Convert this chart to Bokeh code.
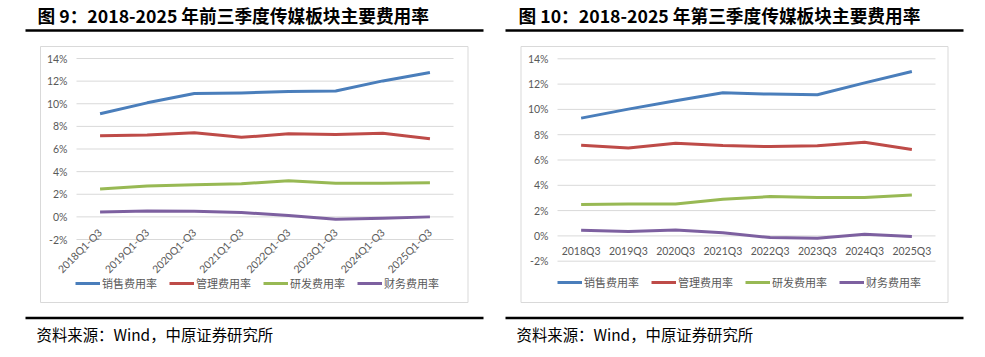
from bokeh.plotting import figure
from bokeh.models import (Range1d, Label, Legend, LegendItem, LinearAxis,
                          PrintfTickFormatter, FixedTicker)
from bokeh.embed import file_html
from bokeh.resources import INLINE
import math

cats_ytd = ["2018Q1-Q3", "2019Q1-Q3", "2020Q1-Q3", "2021Q1-Q3",
            "2022Q1-Q3", "2023Q1-Q3", "2024Q1-Q3", "2025Q1-Q3"]
cats_q3 = ["2018Q3", "2019Q3", "2020Q3", "2021Q3",
           "2022Q3", "2023Q3", "2024Q3", "2025Q3"]

ytd_sales = [9.12, 10.08, 10.90, 10.95, 11.08, 11.13, 12.02, 12.76]
ytd_admin = [7.17, 7.23, 7.43, 7.03, 7.34, 7.28, 7.40, 6.90]
ytd_rd = [2.46, 2.73, 2.84, 2.92, 3.20, 2.97, 2.98, 3.02]
ytd_fin = [0.44, 0.53, 0.50, 0.38, 0.12, -0.20, -0.12, 0.00]

q3_sales = [9.31, 10.02, 10.68, 11.31, 11.21, 11.16, 12.10, 13.00]
q3_admin = [7.17, 6.94, 7.33, 7.14, 7.06, 7.12, 7.41, 6.83]
q3_rd = [2.48, 2.53, 2.53, 2.90, 3.11, 3.03, 3.03, 3.24]
q3_fin = [0.45, 0.34, 0.47, 0.24, -0.13, -0.18, 0.13, -0.05]

series_names = ["销售费用率", "管理费用率", "研发费用率", "财务费用率"]
series_colors = ["#4A7EBB", "#BE4B48", "#98B954", "#7D60A0"]
y_ticks = [-2, 0, 2, 4, 6, 8, 10, 12, 14]

title_left = "图 9：2018-2025 年前三季度传媒板块主要费用率"
title_right = "图 10：2018-2025 年第三季度传媒板块主要费用率"
source_text = "资料来源：Wind，中原证券研究所"

CJK = "Noto Sans CJK SC"
LAT = "Lato"
GRAY = "#595959"
W, H = 985, 357

# page figure: frame covers whole canvas, y measured downward in pixels
p = figure(width=W, height=H, x_range=Range1d(0, W), y_range=Range1d(H, 0),
           output_backend="svg", toolbar_location=None, title=None,
           x_axis_location=None, y_axis_location=None, min_border=0)
p.min_border_left = p.min_border_right = p.min_border_top = p.min_border_bottom = 0
p.outline_line_color = None
p.background_fill_color = "white"
p.border_fill_color = "white"
p.xgrid.visible = False
p.ygrid.visible = False

extra_x, extra_y = {}, {}


def plan_chart(key, cats, gx0, gx1, gy_top, gy_bot):
    n = len(cats)
    band = (gx1 - gx0) / n
    x_start = -0.5 - gx0 / band
    extra_x[key] = Range1d(x_start, x_start + W / band)
    unit = (gy_bot - gy_top) / (y_ticks[-1] - y_ticks[0])
    extra_y[key] = Range1d(y_ticks[0] - (H - gy_bot) / unit, y_ticks[-1] + gy_top / unit)


plan_chart("L", cats_ytd, 76, 453, 58, 239)
plan_chart("R", cats_q3, 557, 935, 58.3, 260.7)
p.extra_x_ranges = extra_x
p.extra_y_ranges = extra_y


def style_axis(ax):
    ax.axis_line_color = None
    ax.major_tick_line_color = None
    ax.minor_tick_line_color = None
    ax.major_tick_in = 0
    ax.major_tick_out = 0
    ax.major_label_text_color = GRAY
    ax.major_label_text_font = LAT
    ax.major_label_text_font_size = "10.5px"


def draw_chart(key, cats, data, x_axis_at, rotated, legend_xy):
    n = len(cats)
    xs = list(range(n))
    # horizontal gridlines across the category bands
    p.segment(x0=-0.5, x1=n - 0.5, y0=y_ticks, y1=y_ticks, line_color="#D9D9D9",
              line_width=1, x_range_name=key, y_range_name=key)
    yax = LinearAxis(x_range_name=key, y_range_name=key, fixed_location=-0.5,
                     ticker=FixedTicker(ticks=y_ticks),
                     formatter=PrintfTickFormatter(format="%d%%"))
    style_axis(yax)
    yax.major_label_standoff = 9
    p.add_layout(yax, "left")
    xax = LinearAxis(x_range_name=key, y_range_name=key, fixed_location=x_axis_at,
                     ticker=FixedTicker(ticks=xs),
                     major_label_overrides={i: c for i, c in enumerate(cats)})
    style_axis(xax)
    if rotated:
        xax.major_label_orientation = math.pi / 4
        xax.major_label_standoff = -9
    else:
        xax.major_label_standoff = 9
    p.add_layout(xax, "below")
    items = []
    for name, color, vals in zip(series_names, series_colors, data):
        r = p.line(x=xs, y=vals, line_width=3, line_color=color, line_join="round",
                   x_range_name=key, y_range_name=key)
        items.append(LegendItem(label=name, renderers=[r]))
    leg = Legend(items=items, orientation="horizontal", location=legend_xy,
                 glyph_width=25, glyph_height=12, label_height=12, label_standoff=2,
                 spacing=12, padding=0, margin=0, border_line_color=None,
                 background_fill_alpha=0, label_text_font=CJK,
                 label_text_font_size="11px", label_text_color=GRAY)
    p.add_layout(leg, "center")


draw_chart("L", cats_ytd, [ytd_sales, ytd_admin, ytd_rd, ytd_fin], -2, True, (75, H - 291))
draw_chart("R", cats_q3, [q3_sales, q3_admin, q3_rd, q3_fin], 0, False, (557, H - 290))

# page decorations (pixel coordinates of the page)
p.multi_line(xs=[[40, 467.5, 467.5, 40, 40], [520.5, 947.5, 947.5, 520.5, 520.5]],
             ys=[[46, 46, 302, 302, 46], [46, 46, 302, 302, 46]],
             line_color="#D9D9D9", line_width=1)
p.segment(x0=[25, 505, 25, 505], x1=[483, 963, 483, 963],
          y0=[30, 30, 317.5, 317.5], y1=[30, 30, 317.5, 317.5],
          line_color="black", line_width=2.5)
for tx, tt in ((37, title_left), (518, title_right)):
    p.add_layout(Label(x=tx, y=14, text=tt, text_font=CJK, text_font_style="bold",
                       text_font_size="17.7px", text_color="black", text_baseline="middle"))
for sx in (36, 516):
    p.add_layout(Label(x=sx, y=333, text=source_text, text_font=CJK,
                       text_font_size="15.4px", text_color="black", text_baseline="middle"))

open("out.html", "w").write(file_html(p, INLINE))
